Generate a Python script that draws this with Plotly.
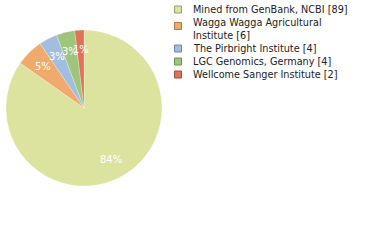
import math
import plotly.graph_objects as go

labels = ["Mined from GenBank, NCBI", "Wagga Wagga Agricultural<br>Institute",
          "The Pirbright Institute", "LGC Genomics, Germany", "Wellcome Sanger Institute"]
values = [89, 6, 4, 4, 2]
colors = ["#dce39f", "#f0aa6c", "#a1bee0", "#9dc57b", "#e07259"]
borders = ["#9aa06a", "#b07a48", "#6f88a8", "#6e9255", "#a24f3d"]

total = sum(values)
pct_text = [f"{int(v * 100 / total)}%" for v in values]

W, H = 380, 240
CX, CY, R = 84, 108, 78
fig = go.Figure()
fig.add_trace(go.Pie(
    labels=labels, values=values, textinfo="none",
    sort=False, direction="clockwise", rotation=0,
    marker=dict(colors=colors, line=dict(color="rgba(255,255,255,0.5)", width=0.5)),
    domain=dict(x=[(CX - R) / W, (CX + R) / W], y=[1 - (CY + R) / H, 1 - (CY - R) / H]),
    showlegend=False, hoverinfo="none",
))

# percentage labels placed at 3/4 radius at each slice's mid-angle
cum = 0
for v, t in zip(values, pct_text):
    mid = (cum + v / 2) / total * 2 * math.pi
    cum += v
    px = CX + 0.75 * R * math.sin(mid)
    py = CY - 0.75 * R * math.cos(mid)
    fig.add_annotation(xref="paper", yref="paper", x=px / W, y=1 - py / H,
                       xanchor="center", yanchor="middle", showarrow=False, text=t,
                       font=dict(family="DejaVu Sans", size=10, color="white"))

# manual legend
row_y = [9.5, 28.5, 48.5, 61.5, 74.5]
sq_y = [9.5, 26, 48.5, 61.5, 74.5]
for i, lab in enumerate(labels):
    yc = sq_y[i]
    fig.add_shape(type="rect", xref="paper", yref="paper",
                  x0=174.5 / W, x1=181.5 / W, y0=1 - (yc + 3.5) / H, y1=1 - (yc - 3.5) / H,
                  fillcolor=colors[i], line=dict(color=borders[i], width=1))
    fig.add_annotation(xref="paper", yref="paper", x=191 / W, y=1 - row_y[i] / H,
                       xanchor="left", yanchor="middle", align="left", showarrow=False,
                       text=f"{lab} [{values[i]}]",
                       font=dict(family="DejaVu Sans", size=9.7, color="#222222"))

fig.update_layout(width=W, height=H, margin=dict(l=0, r=0, t=0, b=0),
                  paper_bgcolor="white", plot_bgcolor="white")
fig.write_html("out.html")
